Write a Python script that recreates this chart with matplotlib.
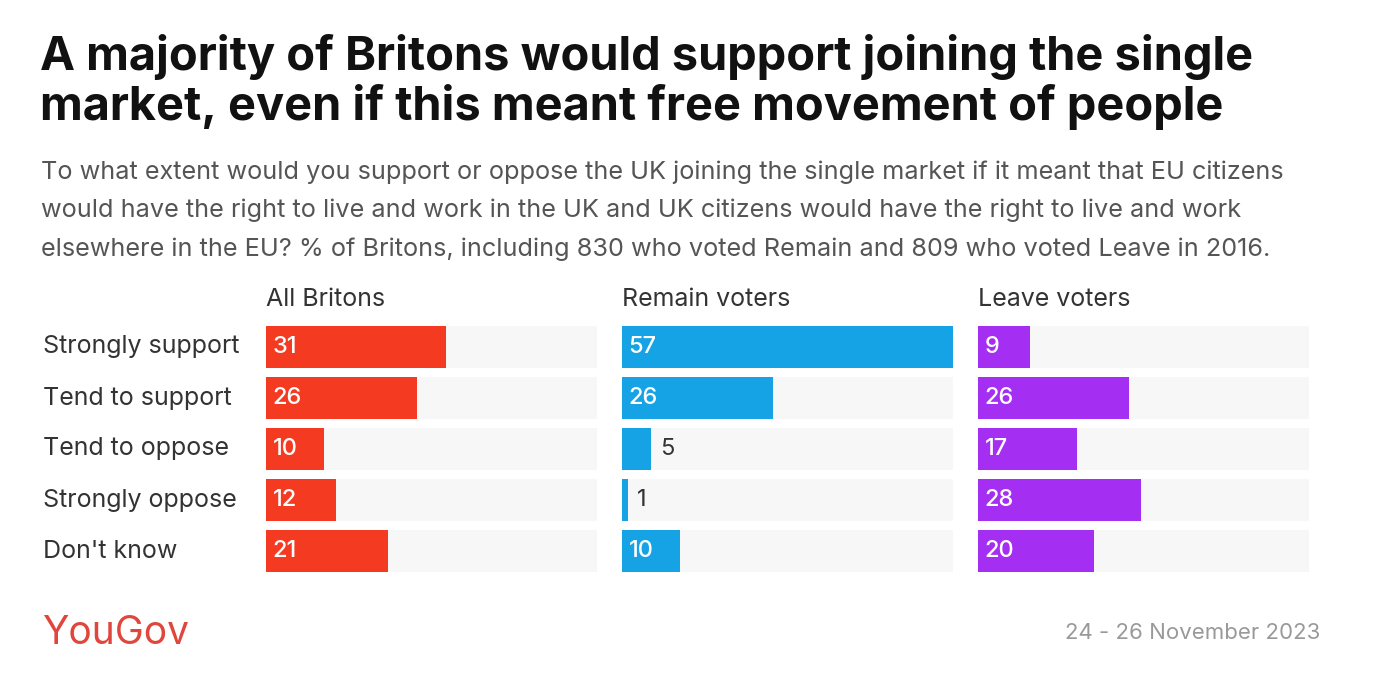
import matplotlib.pyplot as plt

plt.rcParams['font.family'] = ['Inter', 'DejaVu Sans']

categories = ["Strongly support", "Tend to support", "Tend to oppose",
              "Strongly oppose", "Don't know"]
groups = ["All Britons", "Remain voters", "Leave voters"]
all_britons = [31, 26, 10, 12, 21]
remain = [57, 26, 5, 1, 10]
leave = [9, 26, 17, 28, 20]
colours = ["#f43b22", "#16a3e6", "#a42ef2"]

W, H = 1400, 684
fig = plt.figure(figsize=(W / 100, H / 100), dpi=100)
fig.patch.set_facecolor("white")

# title + subtitle
fig.text(40 / W, 1 - 57 / H, "A majority of Britons would support joining the single",
         fontsize=33.8, fontweight="bold", va="center", color="#111111")
fig.text(40 / W, 1 - 107 / H, "market, even if this meant free movement of people",
         fontsize=33.8, fontweight="bold", va="center", color="#111111")
sub = ["To what extent would you support or oppose the UK joining the single market if it meant that EU citizens",
       "would have the right to live and work in the UK and UK citizens would have the right to live and work",
       "elsewhere in the EU? % of Britons, including 830 who voted Remain and 809 who voted Leave in 2016."]
for i, s in enumerate(sub):
    fig.text(41 / W, 1 - (172 + 38.5 * i) / H, s, fontsize=18.2, va="center", color="#555555")

# panels
lefts = [266, 622, 978]
width = 331
xmax = 57
top, bot = 321, 577
data = [all_britons, remain, leave]
for k in range(3):
    ax = fig.add_axes([lefts[k] / W, 1 - bot / H, width / W, (bot - top) / H])
    ys = range(len(categories))
    ax.barh(ys, [xmax] * 5, height=0.82, color="#f7f7f7", zorder=1)
    ax.barh(ys, data[k], height=0.82, color=colours[k], zorder=2)
    ax.set_xlim(0, xmax)
    ax.set_ylim(4.5, -0.5)
    ax.axis("off")
    for y, v in zip(ys, data[k]):
        if v >= 8:
            ax.text(1.1, y, str(v), color="white", fontsize=17, fontweight="medium",
                    va="center", ha="left", zorder=3)
        else:
            ax.text(v + 1.6, y, str(v), color="#333333", fontsize=17, va="center", ha="left", zorder=3)
    fig.text(lefts[k] / W, 1 - 300 / H, groups[k], fontsize=18, va="center", color="#333333")

for i, c in enumerate(categories):
    fig.text(43 / W, 1 - (347 + 51 * i) / H, c, fontsize=18, va="center", color="#333333")

# footer
fig.text(42 / W, 1 - 633 / H, "YouGov", fontsize=28, va="center", color="#e0463c")
fig.text(1320 / W, 1 - 633 / H, "24 - 26 November 2023", fontsize=16, va="center",
         ha="right", color="#999999")

fig.savefig("out.png", dpi=100)
